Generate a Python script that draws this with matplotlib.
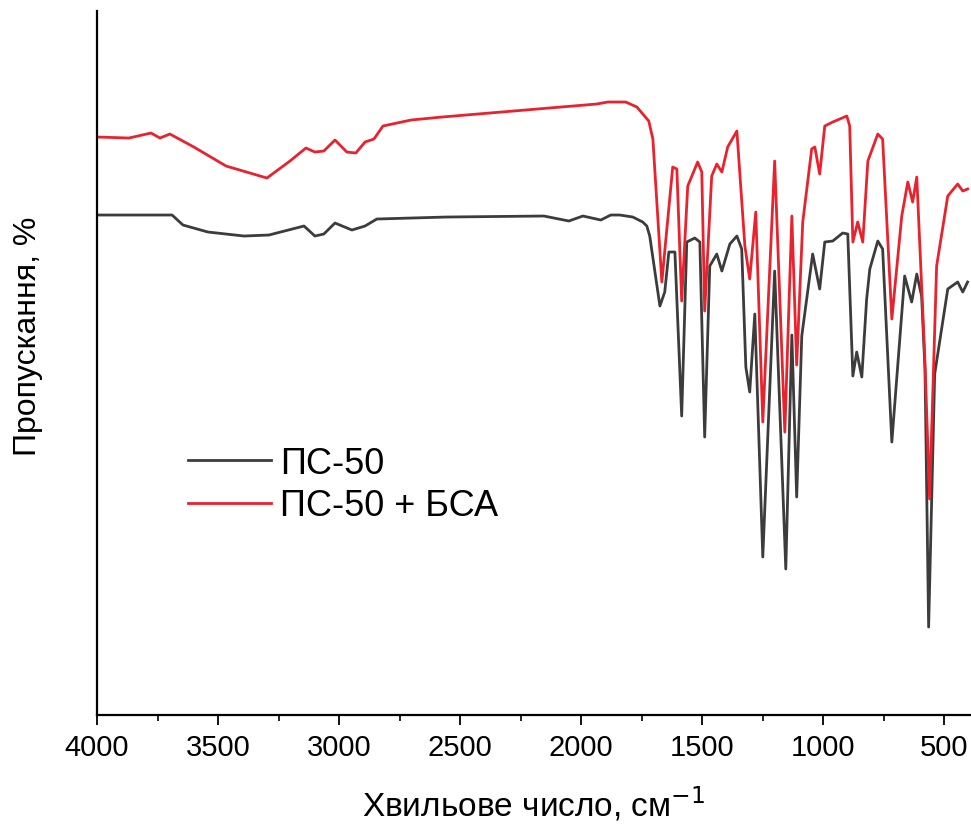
import numpy as np
import matplotlib
matplotlib.use('Agg')
import matplotlib.pyplot as plt
from matplotlib.ticker import MultipleLocator

# FTIR spectra, transmittance in arbitrary units (no y tick labels in the original)
wn_ps = [4000, 3690, 3645, 3542, 3393, 3290, 3145, 3100, 3063, 3017, 2947, 2893,
         2844, 2555, 2154, 2051, 1993, 1919, 1878, 1841, 1787, 1746, 1729, 1717,
         1675, 1655, 1638, 1613, 1585, 1564, 1531, 1510, 1490, 1469, 1440, 1419,
         1386, 1357, 1337, 1320, 1304, 1283, 1250, 1201, 1155, 1130, 1110, 1089,
         1044, 1015, 994, 961, 920, 899, 878, 862, 841, 821, 808, 775, 755, 717,
         664, 635, 614, 594, 580, 565, 540, 486, 445, 424, 404]
t_ps = [500, 500, 490, 483, 479, 480, 489, 479, 481, 492, 485, 489,
        496, 498, 499, 494, 499, 495, 500, 500, 498, 493, 489, 479,
        409, 423, 463, 463, 299, 473, 477, 473, 278, 449, 461, 444,
        471, 479, 466, 348, 323, 401, 158, 444, 146, 380, 218, 379,
        461, 426, 473, 474, 482, 481, 339, 363, 338, 416, 446, 474, 466, 273,
        439, 413, 441, 419, 345, 88, 341, 426, 433, 423, 433]

wn_bsa = [4000, 3868, 3777, 3740, 3699, 3600, 3467, 3298, 3203, 3137, 3100, 3063,
          3017, 2968, 2931, 2893, 2856, 2819, 2703, 2575, 1936, 1890, 1816, 1770,
          1721, 1704, 1667, 1622, 1605, 1585, 1560, 1519, 1502, 1490, 1461, 1440,
          1419, 1395, 1357, 1324, 1304, 1279, 1250, 1201, 1159, 1130, 1110, 1085,
          1048, 1035, 1015, 994, 961, 903, 891, 878, 858, 837, 816, 775, 755, 717,
          676, 651, 631, 614, 581, 561, 532, 486, 445, 424, 404]
t_bsa = [578, 577, 582, 577, 581, 568, 549, 537, 554, 567, 563, 564,
         575, 563, 562, 573, 576, 589, 595, 598, 611, 613, 613, 608,
         594, 576, 433, 548, 546, 414, 529, 553, 543, 404, 539, 551,
         543, 568, 584, 469, 436, 503, 293, 554, 283, 499, 350, 493,
         566, 568, 541, 589, 593, 599, 589, 473, 493, 473, 554, 581, 576, 396,
         499, 533, 513, 538, 359, 216, 449, 519, 531, 524, 526]

labels = ['ПС-50', 'ПС-50 + БСА']
colors = ['#3c3c3c', '#e8232d']

plt.rcParams['font.family'] = ['Liberation Sans', 'DejaVu Sans']

fig = plt.figure(figsize=(9.71, 8.29), dpi=100)
ax = fig.add_axes([0.0999, 0.1363, 0.9001, 0.8492])

ax.plot(wn_ps, t_ps, color=colors[0], lw=2.0, label=labels[0])
ax.plot(wn_bsa, t_bsa, color=colors[1], lw=2.0, label=labels[1])

ax.set_xlim(4000, 390)
ax.set_ylim(0, 704)
ax.xaxis.set_major_locator(MultipleLocator(500))
ax.xaxis.set_minor_locator(MultipleLocator(250))
ax.set_yticks([])

for s in ['top', 'right']:
    ax.spines[s].set_visible(False)
for s in ['left', 'bottom']:
    ax.spines[s].set_linewidth(1.6)

ax.tick_params(axis='x', which='major', direction='out', length=7, width=1.3,
               labelsize=21, pad=6)
ax.tick_params(axis='x', which='minor', direction='out', length=4, width=1.2)

ax.set_xlabel('Хвильове число, см$^{-1}$', fontsize=24, labelpad=16)
ax.set_ylabel('Пропускання, %', fontsize=23)
ax.yaxis.set_label_coords(-0.062, 0.54)

ax.legend(loc='upper left', bbox_to_anchor=(0.075, 0.418), frameon=False,
          fontsize=26, handlelength=2.3, handletextpad=0.25, labelspacing=0.2,
          borderpad=0.2)

fig.savefig('out.png', dpi=100)
